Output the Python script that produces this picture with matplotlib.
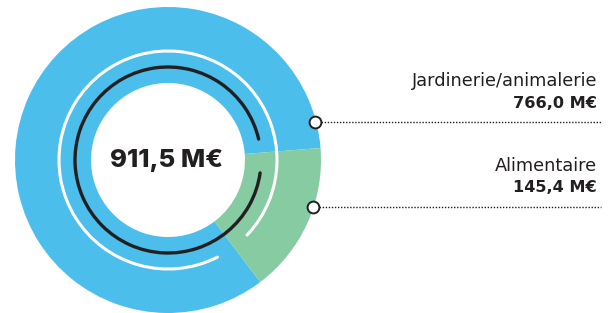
import matplotlib
matplotlib.use("Agg")
import matplotlib.pyplot as plt
import numpy as np
from matplotlib.patches import Arc

categories = ["Jardinerie/animalerie", "Alimentaire"]
values = [766.0, 145.4]
value_labels = ["766,0 M€", "145,4 M€"]
total_label = "911,5 M€"
colors = ["#4BBEEB", "#86CBA1"]
dark = "#231F20"

W, H = 611, 313
fig = plt.figure(figsize=(W / 100, H / 100), dpi=100)
ax = fig.add_axes([0, 0, 1, 1])

cx, cy = 168, 153
R, r_in = 153, 77

ax.pie(values, colors=colors, startangle=4.5, counterclock=True,
       radius=R, center=(cx, cy), frame=True,
       wedgeprops=dict(width=R - r_in, linewidth=0))
ax.set_xlim(0, W)
ax.set_ylim(0, H)
ax.set_aspect("equal")
ax.axis("off")

# decorative arcs
ax.add_patch(Arc((cx, cy), 2 * 109, 2 * 109, theta1=-43.5, theta2=297,
                 color="white", lw=2.2, capstyle="round"))
ax.add_patch(Arc((cx, cy), 2 * 93, 2 * 93, theta1=13, theta2=352,
                 color=dark, lw=2.4, capstyle="round"))

ax.text(cx - 1, cy - 1, total_label, ha="center", va="center", fontsize=18.5,
        fontweight="heavy", color=dark, family="Inter")

# labels with leader lines
marker_angles = [14.5, -18]
text_y = [(232, 210), (147, 126)]
x_end = 601
for ang, cat, vl, (ty1, ty2) in zip(marker_angles, categories, value_labels, text_y):
    a = np.deg2rad(ang)
    mx, my = cx + 152 * np.cos(a), cy + 152 * np.sin(a)
    ax.plot([mx, x_end], [my, my], color=dark, lw=1, ls=(0, (1, 1.2)), zorder=3)
    ax.plot([mx], [my], marker="o", ms=8.5, mfc="white", mec=dark, mew=1.4, zorder=4)
    ax.text(597, ty1, cat, ha="right", va="center", fontsize=12.8,
            color=dark, family="DejaVu Sans")
    ax.text(597, ty2, vl, ha="right", va="center", fontsize=11.6,
            fontweight="bold", color=dark, family="DejaVu Sans")

fig.savefig("out.png", dpi=100)
